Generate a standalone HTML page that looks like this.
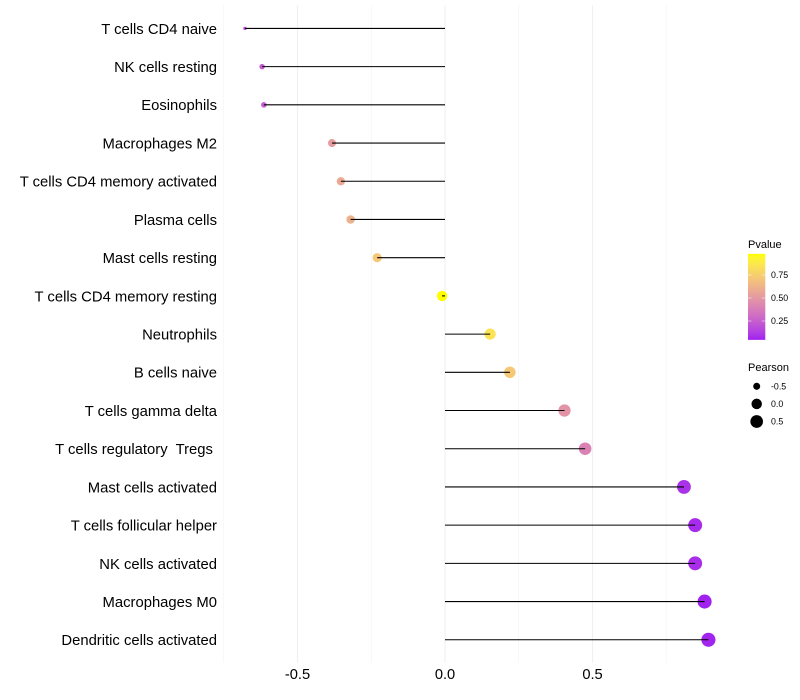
<!DOCTYPE html>
<html>
<head>
<meta charset="utf-8">
<title>Immune cell correlation lollipop chart</title>
<style>
html,body{margin:0;padding:0;background:#fff;}
svg{display:block;font-family:"Liberation Sans",sans-serif;}
text{white-space:pre;}
</style>
</head>
<body>
<svg id="chart" width="800" height="700" viewBox="0 0 800 700" xmlns="http://www.w3.org/2000/svg">
<g id="grid"></g>
<g id="xaxis"></g>
<g id="yaxis"></g>
<g id="points"></g>
<g id="stems"></g>
<g id="legend-color">
<text x="748" y="248" font-size="11" fill="#000">Pvalue</text>
<defs><linearGradient id="cbar" x1="0" y1="1" x2="0" y2="0"></linearGradient></defs>
<rect id="cbar-rect" x="748" width="17.3" fill="url(#cbar)"></rect>
</g>
<g id="legend-size">
<text x="748" y="371" font-size="11" fill="#000">Pearson</text>
</g>
</svg>
<script>
const categories = ["T cells CD4 naive","NK cells resting","Eosinophils","Macrophages M2","T cells CD4 memory activated","Plasma cells","Mast cells resting","T cells CD4 memory resting","Neutrophils","B cells naive","T cells gamma delta","T cells regulatory  Tregs ","Mast cells activated","T cells follicular helper","NK cells activated","Macrophages M0","Dendritic cells activated"];
const pearson = [-0.678,-0.620,-0.614,-0.383,-0.353,-0.320,-0.230,-0.010,0.153,0.220,0.405,0.475,0.810,0.848,0.848,0.880,0.893];
const pvalues = [0.18,0.24,0.25,0.52,0.58,0.62,0.72,0.98,0.85,0.72,0.48,0.40,0.09,0.07,0.08,0.05,0.055];
const xTicks = [-0.5,0.0,0.5];
const xTickLabels = ["-0.5","0.0","0.5"];
const xMinorTicks = [-0.75,-0.25,0.25,0.75];
const colorTicks = [0.25,0.50,0.75];
const colorTickLabels = ["0.25","0.50","0.75"];
const sizeTicks = [-0.5,0.0,0.5];
const sizeTickLabels = ["-0.5","0.0","0.5"];

const NS = "http://www.w3.org/2000/svg";
function mk(tag, attrs, parent, txt){
  const e = document.createElementNS(NS, tag);
  for (const k in attrs) e.setAttribute(k, attrs[k]);
  if (txt !== undefined) e.textContent = txt;
  parent.appendChild(e);
  return e;
}
const panelTop = 5.5, panelBottom = 662.7;
const step = (panelBottom - panelTop) / (categories.length - 1 + 1.2);
function xScale(v){ return 445 + v * 295; }
function yScale(i){ return panelTop + 0.6 * step + i * step; }
function cbarY(p){ return 298 - (p - 0.5) * 92; }
const sizeMin = Math.min(...pearson), sizeMax = Math.max(...pearson);
function rScale(v){
  const t = Math.max(0, (v - sizeMin) / (sizeMax - sizeMin));
  const size = 1 + 5 * Math.sqrt(t);
  return 0.375 * (size * 2.845 + 0.94) + 0.3;
}
function srgb2lin(c){ c/=255; return c<=0.04045? c/12.92 : Math.pow((c+0.055)/1.055,2.4); }
function lin2srgb(c){ c = c<=0.0031308? 12.92*c : 1.055*Math.pow(c,1/2.4)-0.055; return Math.round(255*Math.min(1,Math.max(0,c))); }
function toLab(r,g,b){
  const R=srgb2lin(r),G=srgb2lin(g),B=srgb2lin(b);
  const f=t=>t>0.008856?Math.cbrt(t):7.787*t+16/116;
  const X=f((0.4124*R+0.3576*G+0.1805*B)/0.95047),Y=f(0.2126*R+0.7152*G+0.0722*B),Z=f((0.0193*R+0.1192*G+0.9505*B)/1.08883);
  return [116*Y-16,500*(X-Y),200*(Y-Z)];
}
function fromLab(L,a,b){
  const fy=(L+16)/116,fx=fy+a/500,fz=fy-b/200;
  const g=t=>{const c=t*t*t;return c>0.008856?c:(t-16/116)/7.787;};
  const X=g(fx)*0.95047,Y=g(fy),Z=g(fz)*1.08883;
  return "rgb("+lin2srgb(3.2406*X-1.5372*Y-0.4986*Z)+","+lin2srgb(-0.9689*X+1.8758*Y+0.0415*Z)+","+lin2srgb(0.0557*X-0.2040*Y+1.0570*Z)+")";
}
const labLow = toLab(160,32,240), labHigh = toLab(255,255,0);
const pMin = 0.045, pMax = 0.98;
function colorScale(p){
  const t = Math.min(1, Math.max(0, (p - pMin) / (pMax - pMin)));
  return fromLab(labLow[0]+t*(labHigh[0]-labLow[0]), labLow[1]+t*(labHigh[1]-labLow[1]), labLow[2]+t*(labHigh[2]-labLow[2]));
}

const grid = document.getElementById("grid");
xMinorTicks.forEach(v => {
  const l = mk("line",{x1:xScale(v),x2:xScale(v),y1:panelTop,y2:panelBottom,stroke:"#f3f3f3","stroke-width":0.8},grid);
  
  
});
xTicks.forEach(v => {
  const l = mk("line",{x1:xScale(v),x2:xScale(v),y1:panelTop,y2:panelBottom,stroke:"#f0f0f0","stroke-width":1.07},grid);
  
  
});

const xaxis = document.getElementById("xaxis");
xTicks.forEach((v,i) => {
  const t = mk("text",{x:xScale(v),y:679,"text-anchor":"middle","font-size":14.67,fill:"#000"},xaxis,xTickLabels[i]);
  
  
});

const yaxis = document.getElementById("yaxis");
categories.forEach((c,i) => {
  const t = mk("text",{x:217,y:yScale(i)+5.4,"text-anchor":"end","font-size":14.82,fill:"#000"},yaxis,c);
  
  
});

const points = document.getElementById("points");
const stems = document.getElementById("stems");
categories.forEach((c,i) => {
  const p = mk("circle",{cx:xScale(pearson[i]),cy:yScale(i),r:rScale(pearson[i]),fill:colorScale(pvalues[i])},points);
  
  
  const s = mk("line",{x1:xScale(0),x2:xScale(pearson[i]),y1:yScale(i),y2:yScale(i),stroke:"#000","stroke-width":1.07},stems);
  
  
});

const grad = document.getElementById("cbar");
for (let k = 0; k <= 20; k++){
  const f = k / 20;
  mk("stop",{offset:f,"stop-color":colorScale(pMin + f * (pMax - pMin))},grad);
}
const cbarRect = document.getElementById("cbar-rect");
cbarRect.setAttribute("y", cbarY(pMax));
cbarRect.setAttribute("height", cbarY(pMin) - cbarY(pMax));
const legC = document.getElementById("legend-color");
colorTicks.forEach((v,i) => {
  const a = mk("line",{x1:748,x2:751.5,y1:cbarY(v),y2:cbarY(v),stroke:"#fff","stroke-width":0.5},legC);
  
  
  const b = mk("line",{x1:761.8,x2:765.3,y1:cbarY(v),y2:cbarY(v),stroke:"#fff","stroke-width":0.5},legC);
  
  
  const t = mk("text",{x:771,y:cbarY(v)+3.1,"font-size":8.8,fill:"#000"},legC,colorTickLabels[i]);
  
  
});

const legS = document.getElementById("legend-size");
sizeTicks.forEach((v,i) => {
  const cy = 386.3 + i * 17.6;
  const k = mk("circle",{cx:756.7,cy:cy,r:rScale(v),fill:"#000"},legS);
  
  
  const t = mk("text",{x:771,y:cy+3.1,"font-size":8.8,fill:"#000"},legS,sizeTickLabels[i]);
  
  
});
</script>
</body>
</html>
